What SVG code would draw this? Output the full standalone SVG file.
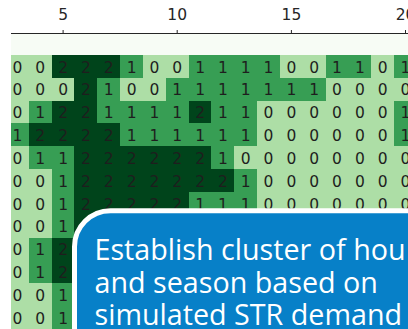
<svg xmlns="http://www.w3.org/2000/svg" width="408" height="329" viewBox="0 0 408 329">
<style>
.c1{fill:#379e54}
.c2{fill:#00441b}
.v{font-family:"DejaVu Sans",sans-serif;font-size:15.5px;text-anchor:middle;fill:#1e1e1e}
.tk{font-family:"DejaVu Sans",sans-serif;font-size:15.5px;text-anchor:middle;fill:#262626}
.cl{font-family:"Open Sans",Lato,sans-serif;font-size:28.7px;fill:#ffffff}
</style>
<rect width="408" height="329" fill="#ffffff"/>
<g id="heatmap" shape-rendering="crispEdges">
<rect x="11" y="34" width="397" height="21" fill="#f7fcf5"/>
<rect x="11" y="55" width="397" height="274" fill="#addea6"/>
<rect class="c2" x="52" y="55" width="68" height="23"/>
<rect class="c1" x="120" y="55" width="23" height="23"/>
<rect class="c1" x="189" y="55" width="91" height="23"/>
<rect class="c1" x="326" y="55" width="45" height="23"/>
<rect class="c1" x="394" y="55" width="23" height="23"/>
<rect class="c2" x="74" y="78" width="23" height="23"/>
<rect class="c1" x="97" y="78" width="23" height="23"/>
<rect class="c1" x="166" y="78" width="160" height="23"/>
<rect class="c1" x="29" y="101" width="23" height="22"/>
<rect class="c2" x="52" y="101" width="45" height="22"/>
<rect class="c1" x="97" y="101" width="92" height="22"/>
<rect class="c2" x="189" y="101" width="22" height="22"/>
<rect class="c1" x="211" y="101" width="46" height="22"/>
<rect class="c1" x="394" y="101" width="23" height="22"/>
<rect class="c1" x="11" y="123" width="18" height="23"/>
<rect class="c2" x="29" y="123" width="91" height="23"/>
<rect class="c1" x="120" y="123" width="137" height="23"/>
<rect class="c1" x="394" y="123" width="23" height="23"/>
<rect class="c1" x="29" y="146" width="45" height="23"/>
<rect class="c2" x="74" y="146" width="137" height="23"/>
<rect class="c1" x="211" y="146" width="23" height="23"/>
<rect class="c1" x="52" y="169" width="22" height="23"/>
<rect class="c2" x="74" y="169" width="160" height="23"/>
<rect class="c1" x="234" y="169" width="23" height="23"/>
<rect class="c1" x="52" y="192" width="22" height="23"/>
<rect class="c2" x="74" y="192" width="115" height="23"/>
<rect class="c1" x="189" y="192" width="68" height="23"/>
<rect class="c1" x="52" y="215" width="22" height="23"/>
<rect class="c2" x="74" y="215" width="46" height="23"/>
<rect class="c1" x="29" y="238" width="23" height="45"/>
<rect class="c2" x="52" y="238" width="45" height="45"/>
<rect class="c1" x="52" y="283" width="45" height="46"/>
</g>
<g id="values">
<g transform="translate(0,72.6)">
<text class="v" x="17.4">0</text><text class="v" x="40.2">0</text><text class="v" x="63.1">2</text><text class="v" x="85.9">2</text><text class="v" x="108.7">2</text><text class="v" x="131.6">1</text><text class="v" x="154.4">0</text><text class="v" x="177.2">0</text><text class="v" x="200.1">1</text><text class="v" x="222.9">1</text><text class="v" x="245.7">1</text><text class="v" x="268.5">1</text><text class="v" x="291.4">0</text><text class="v" x="314.2">0</text><text class="v" x="337">1</text><text class="v" x="359.9">1</text><text class="v" x="382.7">0</text><text class="v" x="405.5">1</text>
</g>
<g transform="translate(0,95.4)">
<text class="v" x="17.4">0</text><text class="v" x="40.2">0</text><text class="v" x="63.1">0</text><text class="v" x="85.9">2</text><text class="v" x="108.7">1</text><text class="v" x="131.6">0</text><text class="v" x="154.4">0</text><text class="v" x="177.2">1</text><text class="v" x="200.1">1</text><text class="v" x="222.9">1</text><text class="v" x="245.7">1</text><text class="v" x="268.5">1</text><text class="v" x="291.4">1</text><text class="v" x="314.2">1</text><text class="v" x="337">0</text><text class="v" x="359.9">0</text><text class="v" x="382.7">0</text><text class="v" x="405.5">0</text>
</g>
<g transform="translate(0,118.3)">
<text class="v" x="17.4">0</text><text class="v" x="40.2">1</text><text class="v" x="63.1">2</text><text class="v" x="85.9">2</text><text class="v" x="108.7">1</text><text class="v" x="131.6">1</text><text class="v" x="154.4">1</text><text class="v" x="177.2">1</text><text class="v" x="200.1">2</text><text class="v" x="222.9">1</text><text class="v" x="245.7">1</text><text class="v" x="268.5">0</text><text class="v" x="291.4">0</text><text class="v" x="314.2">0</text><text class="v" x="337">0</text><text class="v" x="359.9">0</text><text class="v" x="382.7">0</text><text class="v" x="405.5">1</text>
</g>
<g transform="translate(0,141.1)">
<text class="v" x="17.4">1</text><text class="v" x="40.2">2</text><text class="v" x="63.1">2</text><text class="v" x="85.9">2</text><text class="v" x="108.7">2</text><text class="v" x="131.6">1</text><text class="v" x="154.4">1</text><text class="v" x="177.2">1</text><text class="v" x="200.1">1</text><text class="v" x="222.9">1</text><text class="v" x="245.7">1</text><text class="v" x="268.5">0</text><text class="v" x="291.4">0</text><text class="v" x="314.2">0</text><text class="v" x="337">0</text><text class="v" x="359.9">0</text><text class="v" x="382.7">0</text><text class="v" x="405.5">1</text>
</g>
<g transform="translate(0,163.9)">
<text class="v" x="17.4">0</text><text class="v" x="40.2">1</text><text class="v" x="63.1">1</text><text class="v" x="85.9">2</text><text class="v" x="108.7">2</text><text class="v" x="131.6">2</text><text class="v" x="154.4">2</text><text class="v" x="177.2">2</text><text class="v" x="200.1">2</text><text class="v" x="222.9">1</text><text class="v" x="245.7">0</text><text class="v" x="268.5">0</text><text class="v" x="291.4">0</text><text class="v" x="314.2">0</text><text class="v" x="337">0</text><text class="v" x="359.9">0</text><text class="v" x="382.7">0</text><text class="v" x="405.5">0</text>
</g>
<g transform="translate(0,186.8)">
<text class="v" x="17.4">0</text><text class="v" x="40.2">0</text><text class="v" x="63.1">1</text><text class="v" x="85.9">2</text><text class="v" x="108.7">2</text><text class="v" x="131.6">2</text><text class="v" x="154.4">2</text><text class="v" x="177.2">2</text><text class="v" x="200.1">2</text><text class="v" x="222.9">2</text><text class="v" x="245.7">1</text><text class="v" x="268.5">0</text><text class="v" x="291.4">0</text><text class="v" x="314.2">0</text><text class="v" x="337">0</text><text class="v" x="359.9">0</text><text class="v" x="382.7">0</text><text class="v" x="405.5">0</text>
</g>
<g transform="translate(0,209.6)">
<text class="v" x="17.4">0</text><text class="v" x="40.2">0</text><text class="v" x="63.1">1</text><text class="v" x="85.9">2</text><text class="v" x="108.7">2</text><text class="v" x="131.6">2</text><text class="v" x="154.4">2</text><text class="v" x="177.2">2</text><text class="v" x="200.1">1</text><text class="v" x="222.9">1</text><text class="v" x="245.7">1</text><text class="v" x="268.5">0</text><text class="v" x="291.4">0</text><text class="v" x="314.2">0</text><text class="v" x="337">0</text><text class="v" x="359.9">0</text><text class="v" x="382.7">0</text><text class="v" x="405.5">0</text>
</g>
<g transform="translate(0,232.4)"><text class="v" x="17.4">0</text><text class="v" x="40.2">0</text><text class="v" x="63.1">1</text></g>
<g transform="translate(0,255.3)"><text class="v" x="17.4">0</text><text class="v" x="40.2">1</text><text class="v" x="63.1">2</text></g>
<g transform="translate(0,278.1)"><text class="v" x="17.4">0</text><text class="v" x="40.2">1</text><text class="v" x="63.1">2</text></g>
<g transform="translate(0,300.9)"><text class="v" x="17.4">0</text><text class="v" x="40.2">0</text><text class="v" x="63.1">1</text></g>
<g transform="translate(0,323.7)"><text class="v" x="17.4">0</text><text class="v" x="40.2">0</text><text class="v" x="63.1">1</text></g>
</g>
<g id="axis" stroke="#262626" stroke-width="1">
<line x1="11" y1="33.5" x2="408" y2="33.5"/>
<line x1="63.1" y1="30" x2="63.1" y2="33.5"/>
<line x1="177.2" y1="30" x2="177.2" y2="33.5"/>
<line x1="291.4" y1="30" x2="291.4" y2="33.5"/>
<line x1="405.5" y1="30" x2="405.5" y2="33.5"/>
</g>
<g id="ticklabels">
<text class="tk" x="63.1" y="20">5</text>
<text class="tk" x="177.2" y="20">10</text>
<text class="tk" x="291.4" y="20">15</text>
<text class="tk" x="405.5" y="20">20</text>
</g>
<g id="callout">
<rect x="74.5" y="210.8" width="400" height="200" rx="36" ry="36" fill="#0780c8" stroke="#ffffff" stroke-width="5"/>
<text class="cl" x="94.5" y="260">Establish cluster of hou</text>
<text class="cl" x="94.5" y="292.5">and season based on</text>
<text class="cl" x="94.5" y="325">simulated STR demand</text>
</g>
</svg>
